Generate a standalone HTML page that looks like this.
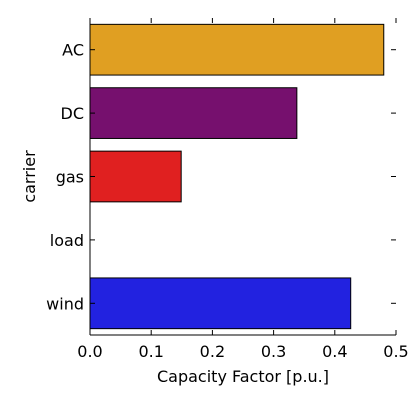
<!DOCTYPE html>
<html><head><meta charset="utf-8"><style>
html,body{margin:0;padding:0;background:#fff;}
svg{display:block;font-family:"DejaVu Sans","Liberation Sans",sans-serif;}
</style></head><body>
<svg id="chart" width="415" height="400" viewBox="0 0 415 400" xmlns="http://www.w3.org/2000/svg"></svg>
<script>
const categories = ["AC","DC","gas","load","wind"];
const values = [0.480, 0.338, 0.149, 0, 0.426];
const colors = ["#e09f22","#76106e","#e02020","#cccccc","#2222e0"];
const xTicks = [0,0.1,0.2,0.3,0.4,0.5];
const xTickLabels = ["0.0","0.1","0.2","0.3","0.4","0.5"];

const svg = document.getElementById('chart');
const NS = "http://www.w3.org/2000/svg";
const L=90,R=396,T=18,B=335;
const xs = v => L + (v/0.5)*(R-L);
const band = (B-T)/categories.length;
const yc = i => T + band*(i+0.5);
function mk(tag, attrs, parent){const e=document.createElementNS(NS,tag);for(const k in attrs)e.setAttribute(k,attrs[k]);(parent||svg).appendChild(e);return e;}

const bars = mk('g',{});


categories.forEach((c,i)=>{
  if(values[i]<=0) return;
  const h=band*0.8;
  const r=mk('rect',{x:xs(0),y:yc(i)-h/2,width:xs(values[i])-xs(0),height:h,fill:colors[i],stroke:'#000','stroke-width':1},bars);
  
  
});

const ax = mk('g',{stroke:'#000','stroke-width':1,fill:'none'});


mk('line',{x1:L,y1:T,x2:L,y2:B},ax);
mk('line',{x1:L,y1:B,x2:R,y2:B},ax);
xTicks.forEach((t,i)=>{
  const x=xs(t);
  mk('line',{x1:x,y1:B,x2:x,y2:B-5},ax);
  mk('line',{x1:x,y1:T,x2:x,y2:T+5},ax);
  const tx=mk('text',{x:x,y:B+22,'text-anchor':'middle','font-size':16,fill:'#000',stroke:'none'});
  tx.textContent=xTickLabels[i];
  
  
});
categories.forEach((c,i)=>{
  const y=yc(i);
  mk('line',{x1:L,y1:y,x2:L+5,y2:y},ax);
  mk('line',{x1:R-5,y1:y,x2:R,y2:y},ax);
  const tx=mk('text',{x:L-6,y:y+6,'text-anchor':'end','font-size':16,fill:'#000',stroke:'none'});
  tx.textContent=c;
  
  
});
const xt=mk('text',{x:(L+R)/2,y:382,'text-anchor':'middle','font-size':16,fill:'#000'});
xt.textContent='Capacity Factor [p.u.]';


const yt=mk('text',{x:0,y:0,'text-anchor':'middle','font-size':16,fill:'#000',transform:'translate(35,'+((T+B)/2)+') rotate(-90)'});
yt.textContent='carrier';


</script>
</body></html>
